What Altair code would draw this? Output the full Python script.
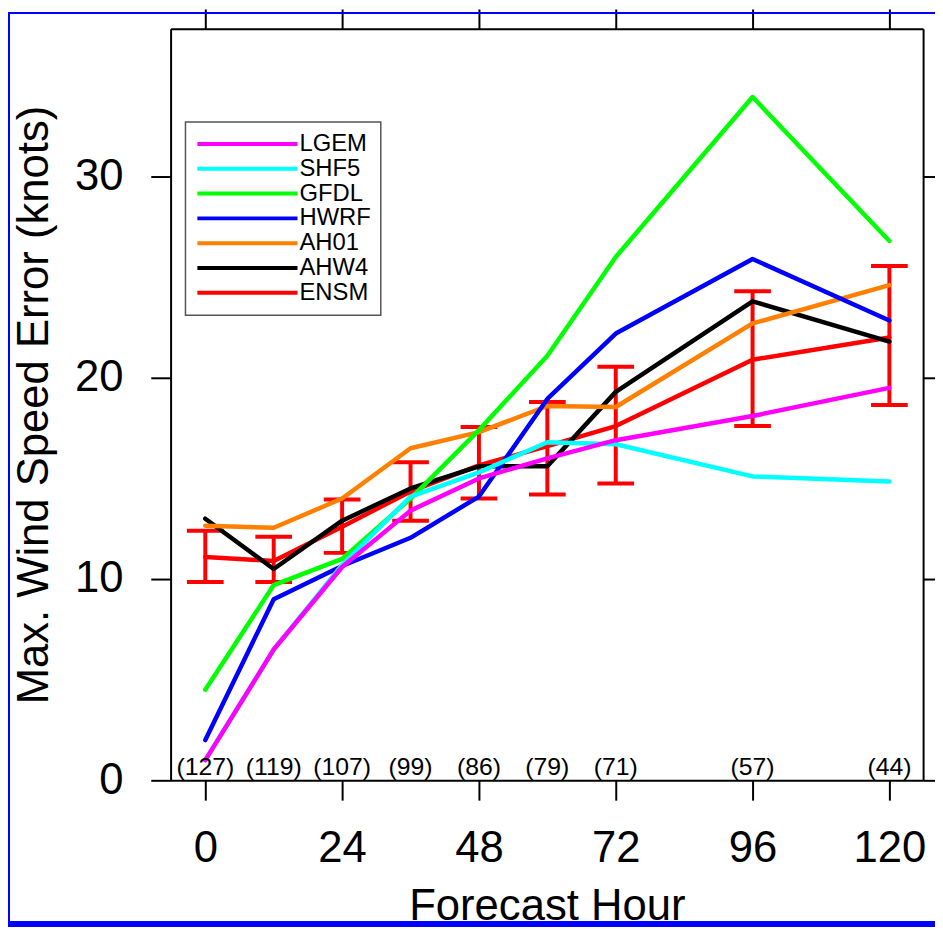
import altair as alt
import pandas as pd

# ---- data ----
hours = [0, 12, 24, 36, 48, 60, 72, 96, 120]
models = ["LGEM", "SHF5", "GFDL", "HWRF", "AH01", "AHW4", "ENSM"]
colors = ["#ff00ff", "#00ffff", "#00ff00", "#0000ff", "#ff8000", "#000000", "#ff0000"]

lgem = [1.0, 6.5, 10.6, 13.4, 15.0, 16.0, 16.9, 18.1, 19.5]
shf5 = [1.0, 6.5, 10.7, 14.1, 15.3, 16.8, 16.7, 15.1, 14.85]
gfdl = [4.5, 9.7, 11.0, 14.0, 17.4, 21.1, 26.0, 33.95, 26.8]
hwrf = [2.0, 9.0, 10.65, 12.05, 14.1, 18.95, 22.2, 25.9, 22.85]
ah01 = [12.65, 12.55, 14.0, 16.5, 17.3, 18.6, 18.55, 22.7, 24.6]
ahw4 = [13.0, 10.5, 12.9, 14.5, 15.6, 15.6, 19.3, 23.8, 21.8]
ensm = [11.1, 10.9, 12.6, 14.35, 15.65, 16.6, 17.6, 20.9, 22.0]
ensm_hi = [12.4, 12.1, 13.95, 15.8, 17.55, 18.8, 20.55, 24.3, 25.55]
ensm_lo = [9.85, 9.85, 11.3, 12.9, 14.0, 14.2, 14.75, 17.6, 18.65]

counts = ["(127)", "(119)", "(107)", "(99)", "(86)", "(79)", "(71)", "(57)", "(44)"]

x_ticks = [0, 24, 48, 72, 96, 120]
y_ticks = [0, 10, 20, 30]

# draw order: ENSM first, LGEM last (on top)
series = {
    "ENSM": ensm, "AHW4": ahw4, "AH01": ah01, "HWRF": hwrf,
    "GFDL": gfdl, "SHF5": shf5, "LGEM": lgem,
}
rows = []
for name, vals in series.items():
    for h, v in zip(hours, vals):
        rows.append({"model": name, "hour": h, "err": v})
df = pd.DataFrame(rows)

eb_df = pd.DataFrame({"hour": hours, "lo": ensm_lo, "hi": ensm_hi})
cnt_df = pd.DataFrame({"hour": hours, "label": counts, "base": [0] * len(hours)})

FONT = "Liberation Sans"
xs = alt.Scale(domain=[-6.087, 125.913], nice=False, zero=False)
ys = alt.Scale(domain=[0, 37.34], nice=False, zero=False)

# blue slide frame (decoration strips)
one = pd.DataFrame({"a": [0]})
frame_bottom = alt.Chart(one).mark_rect(color="#0000ff").encode(
    x=alt.value(-164), x2=alt.value(771), y=alt.value(900), y2=alt.value(906)
)
frame_left = alt.Chart(one).mark_rect(color="#0000ff").encode(
    x=alt.value(-164), x2=alt.value(-162), y=alt.value(-17), y2=alt.value(906)
)
frame_top = alt.Chart(one).mark_rect(color="#0000ff").encode(
    x=alt.value(-164), x2=alt.value(771), y=alt.value(-17), y2=alt.value(-15)
)

bars = alt.Chart(eb_df).mark_rule(color="#ff0000", strokeWidth=4).encode(
    x=alt.X("hour:Q", scale=xs, axis=None),
    y=alt.Y("lo:Q", scale=ys, axis=None),
    y2="hi:Q",
)
cap_hi = alt.Chart(eb_df).mark_tick(
    color="#ff0000", orient="horizontal", size=37, thickness=4, opacity=1
).encode(
    x=alt.X("hour:Q", scale=xs, axis=None),
    y=alt.Y("hi:Q", scale=ys, axis=None),
)
cap_lo = alt.Chart(eb_df).mark_tick(
    color="#ff0000", orient="horizontal", size=37, thickness=4, opacity=1
).encode(
    x=alt.X("hour:Q", scale=xs, axis=None),
    y=alt.Y("lo:Q", scale=ys, axis=None),
)

lines = alt.Chart(df).mark_line(strokeWidth=4.5, strokeCap="round", strokeJoin="round").encode(
    x=alt.X("hour:Q", scale=xs, title="Forecast Hour",
            axis=alt.Axis(orient="bottom", values=x_ticks, labelPadding=27,
                          titlePadding=14, format="d")),
    y=alt.Y("err:Q", scale=ys, title="Max. Wind Speed Error (knots)",
            axis=alt.Axis(orient="left", values=y_ticks, labelPadding=28,
                          titlePadding=18, format="d")),
    color=alt.Color(
        "model:N",
        scale=alt.Scale(domain=models, range=colors),
        legend=alt.Legend(
            orient="none", legendX=15, legendY=94, title=None,
            symbolType="stroke", symbolSize=10201, symbolStrokeWidth=4,
            labelFontSize=24, labelFont=FONT, labelColor="black", labelOffset=0,
            clipHeight=24.4, rowPadding=0, padding=10,
            fillColor="white", strokeColor="#555555",
        ),
    ),
    order=alt.Order("hour:Q"),
)

txt = alt.Chart(cnt_df).mark_text(
    fontSize=25, font=FONT, baseline="alphabetic", dy=-5, color="black"
).encode(
    x=alt.X("hour:Q", scale=xs, title=None,
            axis=alt.Axis(orient="top", values=x_ticks, labels=False)),
    y=alt.Y("base:Q", scale=ys, title=None,
            axis=alt.Axis(orient="right", values=y_ticks, labels=False)),
    text="label:N",
)

chart = (
    alt.layer(frame_bottom, frame_left, frame_top, bars, cap_hi, cap_lo, lines, txt)
    .resolve_axis(x="independent", y="independent")
    .properties(
        width=759, height=758,
        padding={"left": 164, "top": 17, "right": 12, "bottom": 148},
        autosize=alt.AutoSizeParams(type="none"),
    )
    .configure(background="white", font=FONT)
    .configure_view(stroke=None)
    .configure_axis(
        grid=False, domainColor="black", domainWidth=2,
        tickColor="black", tickWidth=2, tickSize=20,
        labelFontSize=44, titleFontSize=44, labelFont=FONT, titleFont=FONT,
        labelColor="black", titleColor="black", titleFontWeight="normal",
    )
    .configure_legend(strokeWidth=1.5)
)

chart.save("out.html", embed_options={"renderer": "svg", "actions": False})
